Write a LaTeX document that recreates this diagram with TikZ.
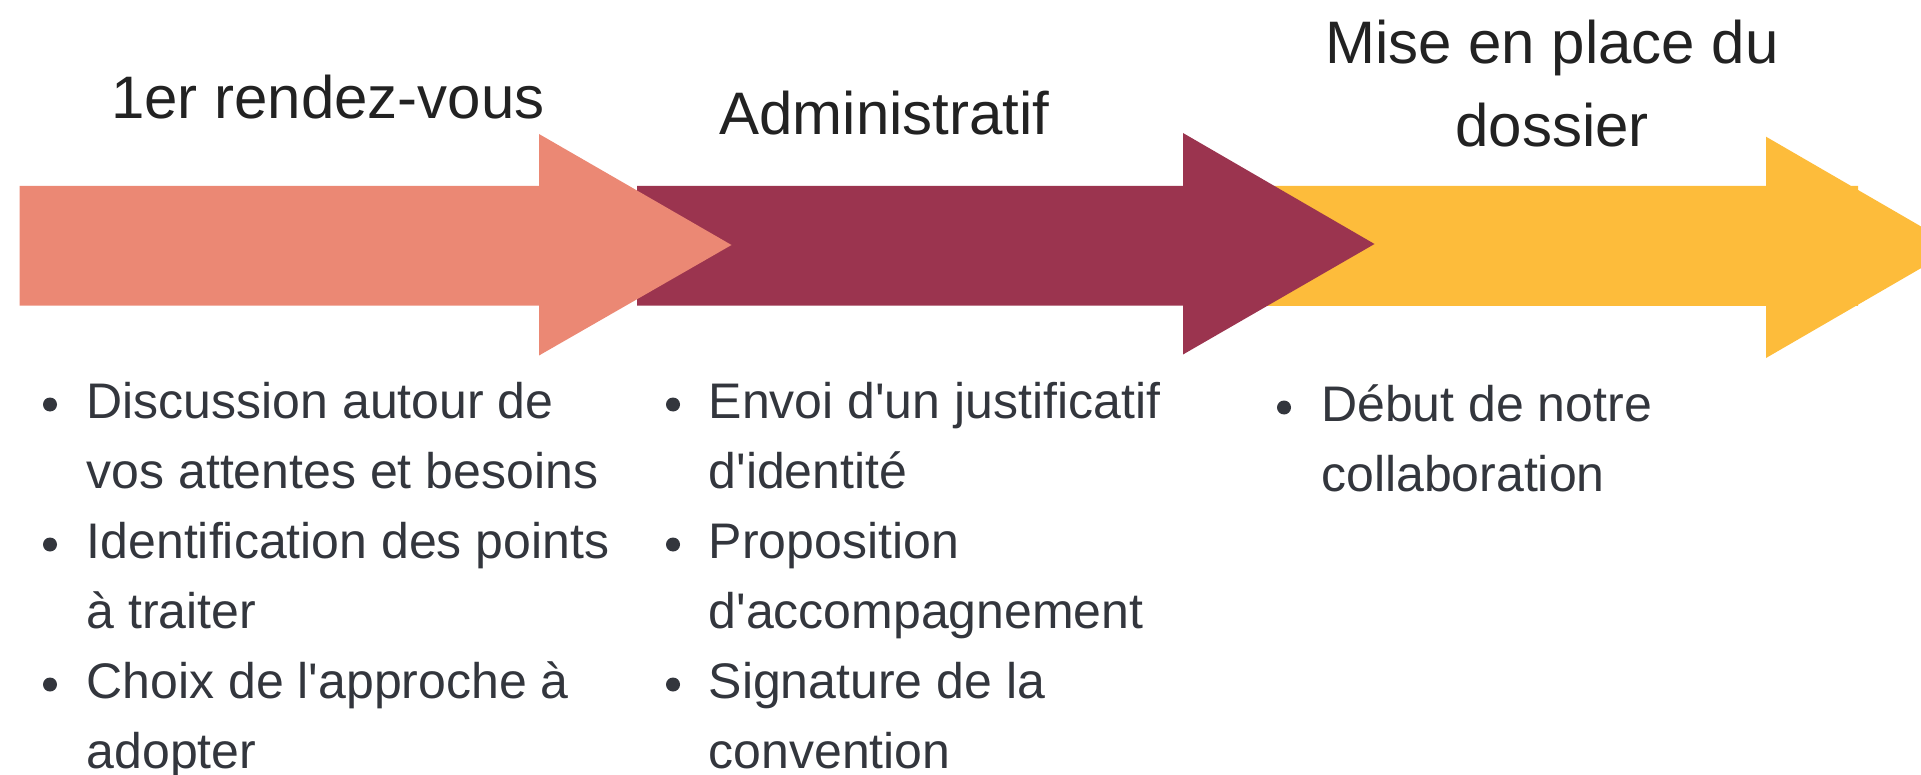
\documentclass[tikz,border=0pt]{standalone}
\usepackage{fontspec}
\setmainfont{Liberation Sans}[Ligatures=TeXOff]
\definecolor{salmonc}{HTML}{EB8874}
\definecolor{maroonc}{HTML}{9B344F}
\definecolor{yellowc}{HTML}{FDBC3B}
\definecolor{titlec}{HTML}{222222}
\definecolor{bodyc}{HTML}{33363D}
\begin{document}
\begin{tikzpicture}[x=1pt,y=-1pt,
  title/.style={text=titlec, font=\fontsize{60}{72}\selectfont, anchor=base, inner sep=0pt},
  item/.style={text=bodyc, font=\fontsize{50}{60}\selectfont, anchor=base west, inner sep=0pt},
  dot/.style={circle, fill=bodyc, inner sep=0pt, minimum size=14pt}]
\useasboundingbox (0,0) rectangle (1921,775);
\clip (0,0) rectangle (1921,775);
% arrows
\fill[yellowc] (1200,186) -- (1858,186) -- (1858,305.7) -- (1766,305.7) -- (1766,358) -- (1957,247.3) -- (1766,136.7) -- (1766,186) -- cycle;
\fill[yellowc] (1200,186) rectangle (1858,305.7);
\fill[maroonc] (637,186) -- (1183,186) -- (1183,133) -- (1374.5,244) -- (1183,354.5) -- (1183,305.7) -- (637,305.7) -- cycle;
\fill[salmonc] (19.6,186) -- (539,186) -- (539,134) -- (731.5,245) -- (539,355.5) -- (539,305.7) -- (19.6,305.7) -- cycle;
% titles
\node[title] (t1) at (328,119) {1er rendez-vous};
\node[title] (t2) at (884.5,134.8) {Administratif};
\node[title] (t3a) at (1552,63.3) {Mise en place du};
\node[title] (t3b) at (1552,146.7) {dossier};
% column 1
\node[dot] (b11) at (50,404.5) {};
\node[item] (l11) at (86.5,418.5) {Discussion autour de};
\node[item] (l12) at (86.5,488.5) {vos attentes et besoins};
\node[dot] (b12) at (50,544.5) {};
\node[item] (l13) at (86.5,558.5) {Identification des points};
\node[item] (l14) at (86.5,628.5) {à traiter};
\node[dot] (b13) at (50,684.5) {};
\node[item] (l15) at (86.5,698.5) {Choix de l'approche à};
\node[item] (l16) at (86.5,768.5) {adopter};
% column 2
\node[dot] (b21) at (673,404.5) {};
\node[item] (l21) at (708.5,418.5) {Envoi d'un justificatif};
\node[item] (l22) at (708.5,488.5) {d'identité};
\node[dot] (b22) at (673,544.5) {};
\node[item] (l23) at (708.5,558.5) {Proposition};
\node[item] (l24) at (708.5,628.5) {d'accompagnement};
\node[dot] (b23) at (673,684.5) {};
\node[item] (l25) at (708.5,698.5) {Signature de la};
\node[item] (l26) at (708.5,768.5) {convention};
% column 3
\node[dot] (b31) at (1284,407.5) {};
\node[item] (l31) at (1321,421.5) {Début de notre};
\node[item] (l32) at (1321,491.5) {collaboration};
\end{tikzpicture}
\end{document}
